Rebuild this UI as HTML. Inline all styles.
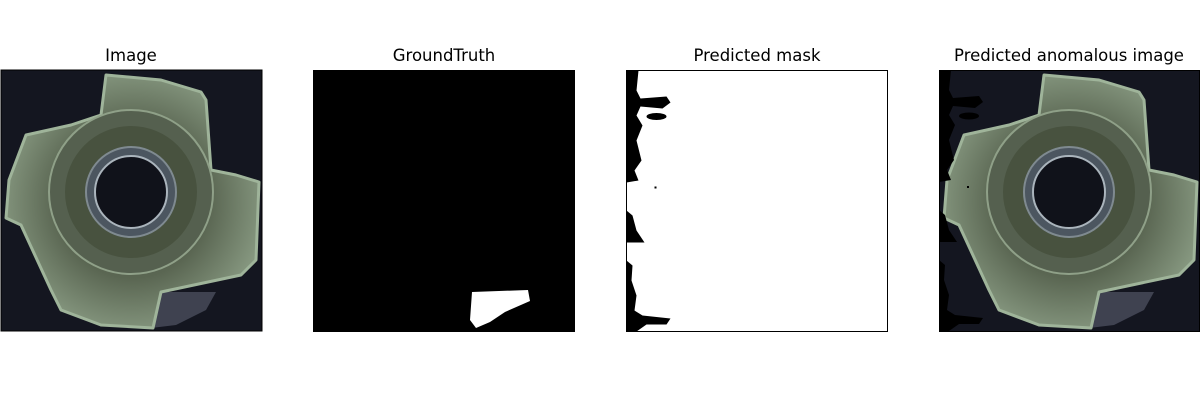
<!DOCTYPE html>
<html><head><meta charset="utf-8"><style>
html,body{margin:0;padding:0;background:#fff;}
svg{display:block;}
text{font-family:"DejaVu Sans","Liberation Sans",sans-serif;font-size:16.5px;fill:#000;}
</style></head><body>
<svg width="1200" height="400" viewBox="0 0 1200 400">
<defs>
<radialGradient id="metal" cx="50%" cy="50%" r="55%">
<stop offset="0" stop-color="#3e4638"/><stop offset="0.55" stop-color="#5a6652"/><stop offset="1" stop-color="#8a9c84"/>
</radialGradient>
<g id="nut">
<rect x="0" y="0" width="261" height="261" fill="#141620"/>
<polygon points="160,222 215,222 205,240 175,255 150,258" fill="#4a4e5c" opacity="0.8"/>
<polygon points="105,5 160,10 200,22 205,30 210,100 235,105 258,112 255,190 240,205 160,222 152,258 100,255 60,240 50,220 20,155 5,148 8,110 25,65 70,55 100,45" fill="url(#metal)" stroke="#9fb49a" stroke-width="3" stroke-linejoin="round"/>
<circle cx="130" cy="122" r="82" fill="#55604f" stroke="#8fa088" stroke-width="2"/>
<circle cx="130" cy="122" r="66" fill="#48523f"/>
<circle cx="130" cy="122" r="45" fill="#4c5660" stroke="#7f8a90" stroke-width="2"/>
<circle cx="130" cy="122" r="36" fill="#10121a" stroke="#aab4bc" stroke-width="2"/>
</g>
<g id="blobs">
<path d="M0,0 L12,0 L10,20 L14,28 L40,26 L44,32 L36,38 L14,36 L10,45 L16,55 L10,70 L15,90 L8,100 L12,110 L0,112 Z"/>
<ellipse cx="30" cy="46" rx="10" ry="3.5"/>
<rect x="28" y="116" width="2" height="2"/>
<path d="M0,140 L6,145 L10,160 L18,172 L0,172 Z"/>
<path d="M0,190 L6,195 L5,210 L10,225 L8,240 L16,245 L44,248 L40,254 L20,254 L10,261 L0,261 Z"/>
</g>
</defs>
<g>
<text x="131" y="61" text-anchor="middle">Image</text>
<use href="#nut" x="1" y="70"/>
<rect x="1" y="70" width="261" height="261" fill="none" stroke="#000" stroke-width="1"/>
</g>
<g>
<text x="444" y="61" text-anchor="middle">GroundTruth</text>
<rect x="313.5" y="70.5" width="261" height="261" fill="#000" stroke="#000"/>
<polygon points="472,292 528,290 530,301 505,312 490,322 476,328 470,320" fill="#fff"/>
</g>
<g>
<text x="757" y="61" text-anchor="middle">Predicted mask</text>
<rect x="626.5" y="70.5" width="261" height="261" fill="#fff"/>
<use href="#blobs" x="626.5" y="70.5" fill="#000"/>
<rect x="626.5" y="70.5" width="261" height="261" fill="none" stroke="#000"/>
</g>
<g>
<text x="1069" y="61" text-anchor="middle">Predicted anomalous image</text>
<use href="#nut" x="939" y="70"/>
<use href="#blobs" x="939" y="70" fill="#000"/>
<rect x="939.5" y="70.5" width="260" height="261" fill="none" stroke="#000"/>
</g>
</svg>
</body></html>
